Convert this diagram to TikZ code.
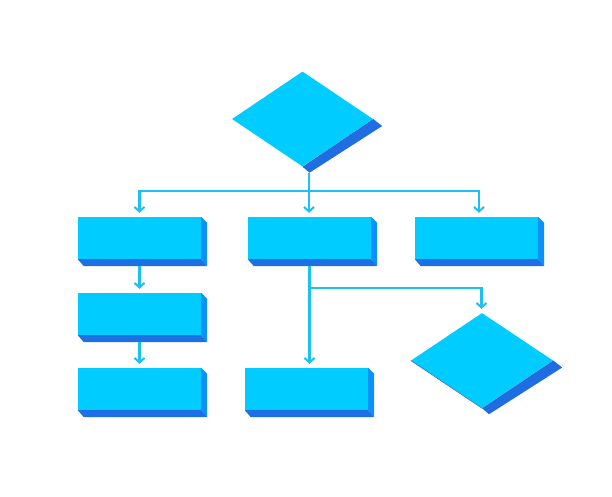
\documentclass[tikz,border=0pt]{standalone}
\usetikzlibrary{calc,arrows.meta,shapes.geometric}
\definecolor{face}{HTML}{00CCFF}
\definecolor{rside}{HTML}{0A92FA}
\definecolor{bside}{HTML}{1C6FE4}
\definecolor{dside}{HTML}{1F6DE0}
\definecolor{wire}{HTML}{1CC0F2}
\tikzset{
  flowbox/.style={rectangle, fill=face, inner sep=0pt, minimum width=123pt, minimum height=42pt},
  flowdia/.style={diamond, fill=face, inner sep=0pt, minimum width=141pt, minimum height=95pt},
  link/.style={draw=wire, line width=2.3pt},
  arrowlink/.style={link, -{Straight Barb[length=4.5pt,width=10pt,line width=2pt]}, shorten >=4pt},
}
\newcommand{\boxside}[1]{%
  \fill[rside] (#1.north east) -- ++(6,6) -- ($(#1.south east)+(6,7)$) -- (#1.south east) -- cycle;
  \fill[bside] (#1.south west) -- (#1.south east) -- ++(6,7) -- ($(#1.south west)+(6,7)$) -- cycle;}
\newcommand{\diaside}[1]{%
  \fill[dside] (#1.east) -- ++(9,7) -- ($(#1.south)+(7,6)$) -- (#1.south) -- cycle;}
\begin{document}
\begin{tikzpicture}[x=1pt,y=-1pt]
\useasboundingbox[fill=white] (0,0) rectangle (612,496);
% nodes
\node[flowdia] (d1) at (302.5,119) {};
\node[flowbox] (b1) at (139.5,238) {};
\node[flowbox] (b2) at (309.5,238) {};
\node[flowbox] (b3) at (476.5,238) {};
\node[flowbox] (b4) at (139.5,314) {};
\node[flowbox] (b5) at (139.5,389) {};
\node[flowbox] (b6) at (306.5,389) {};
\node[flowdia, minimum width=142pt] (d2) at (482,360.5) {};
% extrusions
\diaside{d1}
\diaside{d2}
\draw[dside, line width=0.6pt] (d2.west) -- (d2.south);
\foreach \b in {b1,b2,b3,b4,b5,b6} {\boxside{\b}}
% junctions
\coordinate (d1bot) at ($(d1.south)+(6.5,6)$);
\coordinate (j1) at (309,191);
\coordinate (j2) at (309.5,288);
% connectors
\draw[link] (d1bot) -- (j1);
\draw[arrowlink] (j1) -- (j1 |- b2.north);
\draw[arrowlink] (j1) -| (b1.north);
\draw[arrowlink] (j1) -| ([xshift=2.5pt]b3.north);
\draw[arrowlink] ($(b1.south)+(0,7)$) -- (b4.north);
\draw[arrowlink] ($(b4.south)+(0,7)$) -- (b5.north);
\draw[arrowlink] ($(b2.south)+(0,7)$) -- (b2.south |- b6.north);
\draw[arrowlink] (j2) -| ([xshift=-0.5pt]d2.north);
\end{tikzpicture}
\end{document}
